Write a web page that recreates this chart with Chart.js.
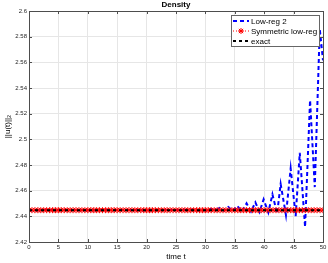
<!DOCTYPE html>
<html>
<head>
<meta charset="utf-8">
<script src="https://cdn.jsdelivr.net/npm/chart.js@4.4.1/dist/chart.umd.min.js"></script>
<style>
  html, body { margin: 0; padding: 0; background: #fff; }
  #wrap { width: 328px; height: 263px; }
</style>
</head>
<body>
<div id="wrap"><canvas id="density"></canvas></div>
<script>
// Low-reg 2 (blue dashed)
const lowRegT = [0, 5, 10, 15, 20, 24.9, 25.65, 26.4, 27.15, 27.9, 28.65, 29.4, 30.15, 30.9, 31.65,
  32.4, 33.15, 33.9, 34.65, 35.4, 36.2, 37.0, 37.75, 38.5, 39.2, 39.9, 40.7, 41.4, 42.2, 42.8,
  43.7, 44.5, 45.35, 46.05, 46.95, 47.8, 48.6, 49.45, 50];
const lowRegV = [2.4448, 2.4449, 2.4448, 2.4449, 2.4448, 2.4450, 2.4447, 2.4452, 2.4447, 2.4453, 2.4446, 2.4455, 2.4445, 2.4458, 2.4444,
  2.4466, 2.4444, 2.4473, 2.4442, 2.4482, 2.4440, 2.4501, 2.4437, 2.4509, 2.4434, 2.4532, 2.4431, 2.4571, 2.4423, 2.4651,
  2.4410, 2.4773, 2.4402, 2.4895, 2.4317, 2.5305, 2.4628, 2.5859, 2.5616];

// Symmetric low-reg (red dotted with stars)
const symT = [0, 0.5, 1, 1.5, 2, 2.5, 3, 3.5, 4, 4.5, 5, 5.5, 6, 6.5, 7, 7.5, 8, 8.5, 9, 9.5,
  10, 10.5, 11, 11.5, 12, 12.5, 13, 13.5, 14, 14.5, 15, 15.5, 16, 16.5, 17, 17.5, 18, 18.5, 19, 19.5,
  20, 20.5, 21, 21.5, 22, 22.5, 23, 23.5, 24, 24.5, 25, 25.5, 26, 26.5, 27, 27.5, 28, 28.5, 29, 29.5,
  30, 30.5, 31, 31.5, 32, 32.5, 33, 33.5, 34, 34.5, 35, 35.5, 36, 36.5, 37, 37.5, 38, 38.5, 39, 39.5,
  40, 40.5, 41, 41.5, 42, 42.5, 43, 43.5, 44, 44.5, 45, 45.5, 46, 46.5, 47, 47.5, 48, 48.5, 49, 49.5, 50];
const symV = [2.4448, 2.4448, 2.4448, 2.4448, 2.4448, 2.4448, 2.4448, 2.4448, 2.4448, 2.4448,
  2.4448, 2.4448, 2.4448, 2.4448, 2.4448, 2.4448, 2.4448, 2.4448, 2.4448, 2.4448,
  2.4448, 2.4448, 2.4448, 2.4448, 2.4448, 2.4448, 2.4448, 2.4448, 2.4448, 2.4448,
  2.4448, 2.4448, 2.4448, 2.4448, 2.4448, 2.4448, 2.4448, 2.4448, 2.4448, 2.4448,
  2.4448, 2.4448, 2.4448, 2.4448, 2.4448, 2.4448, 2.4448, 2.4448, 2.4448, 2.4448,
  2.4448, 2.4448, 2.4448, 2.4448, 2.4448, 2.4448, 2.4448, 2.4448, 2.4448, 2.4448,
  2.4448, 2.4448, 2.4448, 2.4448, 2.4448, 2.4448, 2.4448, 2.4448, 2.4448, 2.4448,
  2.4448, 2.4448, 2.4448, 2.4448, 2.4448, 2.4448, 2.4448, 2.4448, 2.4448, 2.4448,
  2.4448, 2.4448, 2.4448, 2.4448, 2.4448, 2.4448, 2.4448, 2.4448, 2.4448, 2.4448,
  2.4448, 2.4448, 2.4448, 2.4448, 2.4448, 2.4448, 2.4448, 2.4448, 2.4448, 2.4448, 2.4448];

// exact (black dashed)
const exactT = [0, 50];
const exactV = [2.4448, 2.4448];

const xTicks = [0, 5, 10, 15, 20, 25, 30, 35, 40, 45, 50];
const yTicks = [2.42, 2.44, 2.46, 2.48, 2.5, 2.52, 2.54, 2.56, 2.58, 2.6];

const FONT = "'Liberation Sans', Arial, Helvetica, sans-serif";

function pts(t, v) {
  return t.map((x, i) => ({ x: x, y: v[i] }));
}

// title, box, inward ticks and legend, drawn MATLAB style
const matlabBits = {
  id: "matlabBits",
  afterDatasetsDraw(chart) {
    const c = chart.ctx;
    const a = chart.chartArea;
    const sx = chart.scales.x, sy = chart.scales.y;
    c.save();
    c.strokeStyle = "#4d4d4d";
    c.lineWidth = 1;
    c.beginPath();
    xTicks.forEach(v => {
      const px = Math.round(sx.getPixelForValue(v)) + 0.5;
      c.moveTo(px, a.bottom); c.lineTo(px, a.bottom - 3);
      c.moveTo(px, a.top); c.lineTo(px, a.top + 3);
    });
    yTicks.forEach(v => {
      const py = Math.round(sy.getPixelForValue(v)) + 0.5;
      c.moveTo(a.left, py); c.lineTo(a.left + 3, py);
      c.moveTo(a.right, py); c.lineTo(a.right - 3, py);
    });
    c.stroke();
    c.strokeRect(Math.round(a.left) + 0.5, Math.round(a.top) + 0.5,
      Math.round(a.right - a.left), Math.round(a.bottom - a.top));

    // title
    c.fillStyle = "#000";
    c.font = "bold 8px " + FONT;
    c.textAlign = "center";
    c.textBaseline = "middle";
    c.fillText("Density", (a.left + a.right) / 2, 5);

    // legend
    const lx = 231, ly = 15, lw = 88, lh = 31;
    c.fillStyle = "#fff";
    c.fillRect(lx, ly, lw, lh);
    c.strokeStyle = "#666";
    c.strokeRect(lx + 0.5, ly + 0.5, lw, lh);
    const rows = [21, 31, 41];
    c.font = "8px " + FONT;
    c.textAlign = "left";
    chart.data.datasets.forEach((ds, i) => {
      const y = rows[i];
      c.strokeStyle = ds.borderColor;
      c.lineWidth = ds.borderWidth;
      c.setLineDash(ds.borderDash || []);
      c.beginPath();
      c.moveTo(233, y); c.lineTo(249, y);
      c.stroke();
      c.setLineDash([]);
      if (ds.pointRadius > 0) {
        c.lineWidth = 1;
        c.beginPath();
        const r = ds.pointRadius;
        for (let k = 0; k < 4; k++) {
          const ang = k * Math.PI / 4;
          c.moveTo(241 - r * Math.cos(ang), y - r * Math.sin(ang));
          c.lineTo(241 + r * Math.cos(ang), y + r * Math.sin(ang));
        }
        c.stroke();
      }
      c.fillStyle = "#000";
      c.fillText(ds.label, 251, y + 0.5);
    });
    c.restore();
  }
};

const ctx = document.getElementById("density");

const chart = new Chart(ctx, {
  type: "line",
  data: {
    datasets: [
      {
        label: "Low-reg 2",
        data: pts(lowRegT, lowRegV),
        borderColor: "#0000ff",
        borderWidth: 2,
        borderDash: [4, 3],
        pointRadius: 0,
        tension: 0,
        order: 3
      },
      {
        label: "Symmetric low-reg",
        data: pts(symT, symV),
        borderColor: "#ff0000",
        backgroundColor: "#ff0000",
        borderWidth: 1,
        borderDash: [1, 2],
        pointStyle: "star",
        pointRadius: 3,
        pointBorderWidth: 1,
        pointBorderColor: "#ff0000",
        tension: 0,
        order: 2
      },
      {
        label: "exact",
        data: pts(exactT, exactV),
        borderColor: "#000000",
        borderWidth: 2,
        borderDash: [3, 3],
        pointRadius: 0,
        tension: 0,
        order: 1
      }
    ]
  },
  options: {
    responsive: true,
    maintainAspectRatio: false,
    animation: false,
    layout: { padding: { top: 11, right: 4, left: 0, bottom: 0 } },
    plugins: {
      legend: { display: false },
      title: { display: false },
      tooltip: { enabled: false }
    },
    scales: {
      x: {
        type: "linear",
        min: 0,
        max: 50,
        afterBuildTicks: s => { s.ticks = xTicks.map(v => ({ value: v })); },
        afterFit: s => { s.height = 21; s.paddingLeft = 0; s.paddingRight = 0; },
        grid: { color: "#e6e6e6", lineWidth: 1, drawTicks: false },
        border: { display: false },
        ticks: { font: { family: FONT, size: 6 }, color: "#262626", padding: 2, maxRotation: 0 },
        title: { display: true, text: "time t", font: { family: FONT, size: 8 }, color: "#000", padding: { top: 0, bottom: 1 } }
      },
      y: {
        type: "linear",
        min: 2.42,
        max: 2.6,
        afterBuildTicks: s => { s.ticks = yTicks.map(v => ({ value: v })); },
        afterFit: s => { s.width = 29; s.paddingTop = 0; s.paddingBottom = 0; },
        grid: { color: "#e6e6e6", lineWidth: 1, drawTicks: false },
        border: { display: false },
        ticks: {
          font: { family: FONT, size: 6 }, color: "#262626", padding: 2,
          callback: v => String(Math.round(v * 100) / 100)
        },
        title: { display: true, text: "||u(t)||\u2082", font: { family: FONT, size: 8 }, color: "#000", padding: { top: 3, bottom: 0 } }
      }
    }
  },
  plugins: [matlabBits]
});
</script>
</body>
</html>
